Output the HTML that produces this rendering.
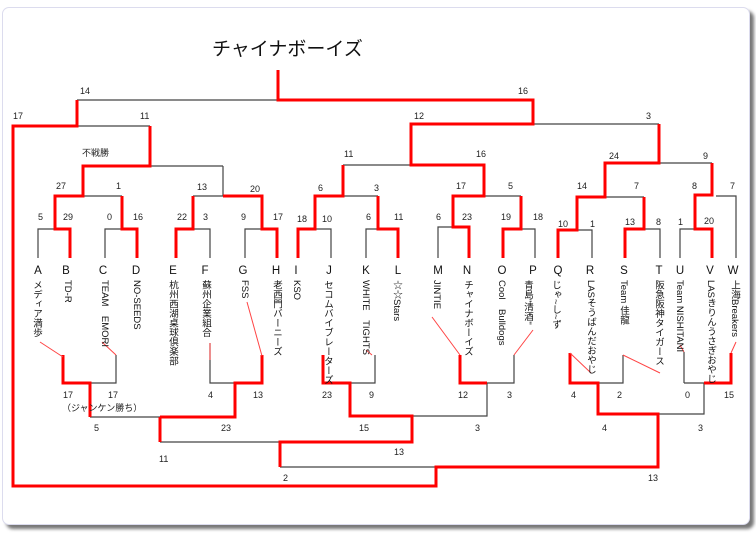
<!DOCTYPE html>
<html><head><meta charset="utf-8"><style>
body{margin:0;width:756px;height:543px;background:#fff;position:relative;overflow:hidden;font-family:"Liberation Sans","Noto Sans CJK JP",sans-serif}
.paper{position:absolute;left:2px;top:7px;width:746px;height:516px;border:1.5px solid #dcdcee;border-radius:7px;box-shadow:4px 4px 3px #777;background:#fff}
svg{position:absolute;left:0;top:0}
.n{position:absolute;writing-mode:vertical-rl;font-size:9.5px;line-height:11px;top:280px;color:#111;white-space:nowrap}
</style></head><body>
<div class="paper"></div>
<svg width="756" height="543" viewBox="0 0 756 543">
<g fill="none" stroke="#444" stroke-width="1.2">
<path d="M77 100H278M77 126H150M150 166H223M83 196H122M193 196H223M223 166V196M38 258V229H55M105 258V229H122M210 258V229H193M245 258V229H262M331 258V229H315M343 196H378M343 165H411M366 258V229H378M438 258V227H453M535 258V229H521M484 196H521M533 124H659M659 163H712M605 197H644M577 230H592V258M660 258V229H644M680 258V229H695M716 196H736V258"/>
<path d="M90 383H116V355M210 343V383H235M90 417H160M160 442H280M350 383H375V355M412 416H487V383M487 383H514V355M280 467H436M598 383H623V355M658 414H704V383M684 383H704M684 383V352"/>
</g>
<g fill="none" stroke="#f00" stroke-width="3">
<path d="M278 70V100H533V124H411V165H484V196H453V227H469V258"/>
<path d="M77 100V126H13V486H436V467H658V414H598V383H570V353"/>
<path d="M150 126V166H83V196H55V229H70V258M122 196V229H137V258M223 196H262V229H277V258M193 196V229H176V258M343 165V196H315V229H298V258M378 196V229H398V258M521 196V229H503V258M659 124V163H605V197H577V230H558V258M644 197V229H625V258M712 163V195H695V229H712V258"/>
<path d="M63 355V383H90V417M160 417V442M160 417H235V383H262V355M323 355V383H350V416H412V442H280V467M460 355V383H487M436 467V486M704 383H731V353"/>
</g>
<g fill="none" stroke="#f44" stroke-width="1">
<path d="M40 342L63 357M102 342L116 355M210 343V360M247 302L262 356M432 317L460 355M514 355L533 330M570 353L591 373M623 355L660 373M680 345L684 352M731 353L736 342M372 355L366 350"/>
</g>
<g font-size="9" fill="#222" font-family="Liberation Sans,sans-serif">
<text x="80" y="94">14</text><text x="518" y="94">16</text>
<text x="13" y="119">17</text><text x="140" y="119">11</text><text x="414" y="119">12</text><text x="646" y="119">3</text>
<text x="82" y="156">不戦勝</text><text x="344" y="157">11</text><text x="476" y="157">16</text><text x="609" y="159">24</text><text x="703" y="159">9</text>
<text x="56" y="189">27</text><text x="116" y="189">1</text><text x="197" y="190">13</text><text x="250" y="192">20</text><text x="318" y="191">6</text><text x="374" y="191">3</text><text x="456" y="189">17</text><text x="508" y="189">5</text><text x="577" y="189">14</text><text x="634" y="189">7</text><text x="692" y="189">8</text><text x="730" y="189">7</text>
<text x="38" y="220">5</text><text x="63" y="220">29</text><text x="107" y="220">0</text><text x="133" y="220">16</text><text x="177" y="220">22</text><text x="203" y="220">3</text><text x="241" y="220">9</text><text x="273" y="220">17</text><text x="297" y="222">18</text><text x="322" y="222">10</text><text x="366" y="220">6</text><text x="394" y="220">11</text><text x="436" y="220">6</text><text x="462" y="220">23</text><text x="501" y="220">19</text><text x="533" y="220">18</text><text x="558" y="227">10</text><text x="590" y="227">1</text><text x="625" y="225">13</text><text x="656" y="225">8</text><text x="678" y="225">1</text><text x="704" y="224">20</text>
<text x="63" y="398">17</text><text x="108" y="398">17</text><text x="62" y="411">（ジャンケン勝ち）</text><text x="208" y="398">4</text><text x="253" y="398">13</text><text x="322" y="398">23</text><text x="369" y="398">9</text><text x="458" y="398">12</text><text x="507" y="398">3</text><text x="571" y="398">4</text><text x="617" y="398">2</text><text x="685" y="398">0</text><text x="724" y="398">15</text>
<text x="94" y="431">5</text><text x="221" y="431">23</text><text x="359" y="431">15</text><text x="475" y="431">3</text><text x="602" y="431">4</text><text x="698" y="431">3</text>
<text x="159" y="462">11</text><text x="394" y="455">13</text><text x="283" y="481">2</text><text x="648" y="481">13</text>
</g>
<g font-size="11.5" fill="#111" text-anchor="middle" font-family="Liberation Sans,sans-serif">
<text x="38" y="274">A</text><text x="66" y="274">B</text><text x="103" y="274">C</text><text x="136" y="274">D</text><text x="173" y="274">E</text><text x="205" y="274">F</text><text x="243" y="274">G</text><text x="276" y="274">H</text><text x="296" y="274">I</text><text x="329" y="274">J</text><text x="366" y="274">K</text><text x="398" y="274">L</text><text x="438" y="274">M</text><text x="467" y="274">N</text><text x="502" y="274">O</text><text x="533" y="274">P</text><text x="558" y="274">Q</text><text x="590" y="274">R</text><text x="624" y="274">S</text><text x="659" y="274">T</text><text x="680" y="274">U</text><text x="710" y="274">V</text><text x="733" y="274">W</text>
</g>
<text x="212" y="55" font-size="19" fill="#111" font-family="Liberation Sans,Noto Sans CJK JP,sans-serif">チャイナボーイズ</text>
</svg>
<div class="n" style="left:31px">メディア満歩</div>
<div class="n" style="left:62px">TD-R</div>
<div class="n" style="left:99px">TEAM　EMORI</div>
<div class="n" style="left:131px">NO-SEEDS</div>
<div class="n" style="left:167px">杭州西湖桌球倶楽部</div>
<div class="n" style="left:200px">蘇州企業組合</div>
<div class="n" style="left:239px">FSS</div>
<div class="n" style="left:271px">老西門バーニーズ</div>
<div class="n" style="left:291px">KSO</div>
<div class="n" style="left:322px">セコムバイブレーターズ</div>
<div class="n" style="left:360px">WHITE　TIGHTS</div>
<div class="n" style="left:391px">☆☆Stars</div>
<div class="n" style="left:431px">JINTIE</div>
<div class="n" style="left:462px">チャイナボーイズ</div>
<div class="n" style="left:496px">Cool　Bulldogs</div>
<div class="n" style="left:522px">青島"清酒"</div>
<div class="n" style="left:550px">じゃ~し~ず</div>
<div class="n" style="left:585px">LASそうばんだおやじ</div>
<div class="n" style="left:618px">Team 佳龍</div>
<div class="n" style="left:653px">阪急阪神タイガース</div>
<div class="n" style="left:674px">Team NISHITANI</div>
<div class="n" style="left:705px">LASきりんうさぎおやじ</div>
<div class="n" style="left:729px">上海Breakers</div>
</body></html>
